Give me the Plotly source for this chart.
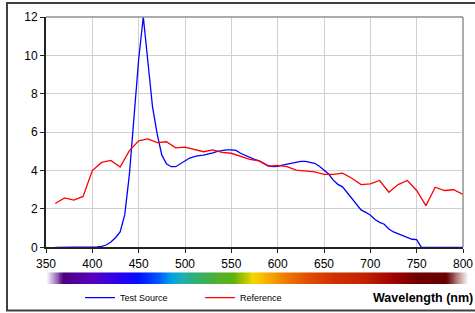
import numpy as np
import plotly.graph_objects as go

# ---- data ----
wl_test = list(range(360, 805, 5))
test_source = [
    0, 0, 0, 0, 0, 0, 0, 0, 0, 0.02,            # 360-405
    0.05, 0.12, 0.28, 0.5, 0.8, 1.7, 3.8, 6.8, 9.8, 12.0,   # 410-455
    9.8, 7.3, 5.9, 4.8, 4.35, 4.2, 4.2, 4.35, 4.5, 4.65,    # 460-505
    4.72, 4.78, 4.8, 4.85, 4.92, 5.0, 5.05, 5.08, 5.08, 5.05,  # 510-555
    4.9, 4.78, 4.68, 4.58, 4.5, 4.38, 4.25, 4.2, 4.22, 4.28,   # 560-605
    4.33, 4.4, 4.45, 4.48, 4.48, 4.42, 4.38, 4.22, 4.02, 3.82, # 610-655
    3.5, 3.28, 3.15, 2.85, 2.55, 2.25, 1.95, 1.82, 1.68, 1.45, # 660-705
    1.3, 1.2, 0.95, 0.8, 0.7, 0.6, 0.48, 0.42, 0.4, 0.0,       # 710-755
    0, 0, 0, 0, 0, 0, 0, 0, 0,                                  # 760-800
]

wl_ref = list(range(360, 810, 10))
reference = [
    2.28, 2.57, 2.46, 2.65, 4.0, 4.42, 4.53, 4.18, 5.04, 5.55,   # 360-450
    5.65, 5.45, 5.5, 5.18, 5.22, 5.08, 4.98, 5.08, 4.95, 4.9,    # 460-550
    4.75, 4.58, 4.5, 4.22, 4.27, 4.2, 4.02, 3.97, 3.93, 3.8,     # 560-650
    3.8, 3.86, 3.6, 3.27, 3.3, 3.48, 2.87, 3.27, 3.48, 2.96,     # 660-750
    2.17, 3.13, 2.96, 3.0, 2.75,                                 # 760-800
]

x_ticks = list(range(350, 801, 50))
y_ticks = list(range(0, 13, 2))

# spectrum strip colours (wavelength, colour)
spec_wl = [351, 369, 385, 398, 430, 450, 470, 485, 498, 512, 535, 552, 563, 573,
           582, 606, 631, 660, 696, 725, 750, 782, 805]
spec_col = ["#ffffff", "#4b0080", "#5200a2", "#5800b8", "#2a00f0", "#0010ff", "#0050ff",
            "#00a0e8", "#20b0b0", "#30b070", "#50b030", "#60b010", "#a8c400", "#f0d800",
            "#f8c000", "#f08000", "#e05000", "#d03000", "#c02000", "#a00000", "#700000",
            "#680000", "#ffffff"]

FONT = "Liberation Sans, Arial, sans-serif"

fig = go.Figure()

fig.add_trace(go.Scatter(x=wl_test, y=test_source, mode="lines", name="Test Source",
                         line=dict(color="#0000ff", width=1.3), cliponaxis=False))
fig.add_trace(go.Scatter(x=wl_ref, y=reference, mode="lines", name="Reference",
                         line=dict(color="#ff0000", width=1.3)))

# spectrum strip as heatmap
lo, hi = spec_wl[0], spec_wl[-1]
strip_x = np.arange(lo, hi + 1, 1.0)
cscale = [[(w - lo) / (hi - lo), c] for w, c in zip(spec_wl, spec_col)]
fig.add_trace(go.Heatmap(x=strip_x, y=[0], z=[strip_x], colorscale=cscale, zmin=lo, zmax=hi,
                         showscale=False, hoverinfo="skip", xaxis="x2", yaxis="y2",
                         showlegend=False))

W, H = 475, 313
ml, mr, mt, mb = 46, 5, 17, 20
pw = W - ml - mr
ph = H - mt - mb
main_right = 417 / pw
main_bottom = (H - mb - 247.3) / ph

fig.update_layout(
    width=W, height=H,
    margin=dict(l=ml, r=mr, t=mt, b=mb, autoexpand=False),
    paper_bgcolor="white", plot_bgcolor="white",
    font=dict(family=FONT, size=12, color="#000"),
    xaxis=dict(domain=[0, main_right], range=[350, 800], tickvals=x_ticks,
               showgrid=True, gridcolor="#d0d0d0", gridwidth=1,
               showline=True, linecolor="#222", linewidth=2,
               ticks="outside", ticklen=4, tickcolor="#222", zeroline=False,
               tickfont=dict(size=12), anchor="y", layer="below traces"),
    yaxis=dict(domain=[main_bottom, 1], range=[0, 12], tickvals=y_ticks,
               showgrid=True, gridcolor="#d0d0d0", gridwidth=1,
               showline=True, linecolor="#222", linewidth=2,
               ticks="outside", ticklen=4, tickcolor="#222", zeroline=False,
               tickfont=dict(size=12), anchor="x", layer="below traces"),
    xaxis2=dict(domain=[0, 1], range=[350, 350 + pw * 50 / 46.33], visible=False,
                anchor="y2"),
    yaxis2=dict(domain=[(H - mb - 284) / ph, (H - mb - 272.3) / ph], range=[-0.5, 0.5],
                visible=False, anchor="x2"),
    showlegend=True,
    legend=dict(orientation="h", x=(80 - ml) / pw, xanchor="left",
                y=(H - mb - 297.7) / ph, yanchor="middle",
                font=dict(size=9, family=FONT, color="#000"),
                entrywidth=75, entrywidthmode="pixels",
                bgcolor="rgba(0,0,0,0)", borderwidth=0),
    annotations=[dict(text="<b>Wavelength (nm)</b>", xref="paper", yref="paper",
                      x=(371 - ml) / pw, y=(H - mb - 298) / ph, xanchor="left",
                      yanchor="middle", showarrow=False,
                      font=dict(size=12.5, family=FONT, color="#000"))],
    shapes=[
        # plot area frame (top & right)
        dict(type="line", xref="x domain", yref="y domain", x0=0, x1=1, y0=1, y1=1,
             line=dict(color="#909090", width=1.5)),
        dict(type="line", xref="x domain", yref="y domain", x0=1, x1=1, y0=0, y1=1,
             line=dict(color="#909090", width=1.5)),
        # outer chart frame
        dict(type="rect", xref="paper", yref="paper",
             x0=(7 - ml) / pw, x1=(485 - ml) / pw,
             y0=(H - mb - 310.5) / ph, y1=1 + (mt - 3) / ph,
             line=dict(color="#404040", width=2), layer="above"),
    ],
)

fig.write_html("out.html", config={"displayModeBar": False},
               post_script="document.body.style.margin='0';")
